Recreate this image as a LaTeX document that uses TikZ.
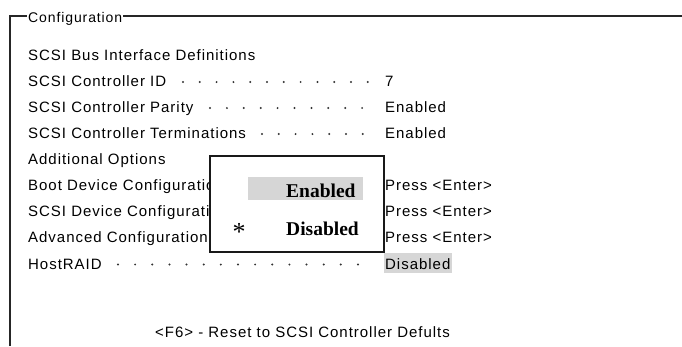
\documentclass[tikz,border=0pt]{standalone}
\usepackage{fontspec}
\newfontfamily\uifont[LetterSpace=6.5]{Liberation Sans}
\newfontfamily\titlefont[LetterSpace=6.4]{Liberation Sans}
\newfontfamily\popfont{Liberation Serif}
\definecolor{hilite}{HTML}{D6D6D6}
\tikzset{
  lbl/.style={inner sep=0pt, anchor=base west, font=\uifont\fontsize{15}{17}\selectfont},
  ttl/.style={inner sep=1pt, anchor=base west, fill=white, font=\titlefont\fontsize{14}{16}\selectfont},
  pop/.style={inner sep=0pt, anchor=base west, font=\popfont\bfseries\fontsize{19.5}{22}\selectfont},
  frameline/.style={line width=1.6pt, black!85},
  dotmark/.style={fill=black!80}
}
\begin{document}
\begin{tikzpicture}[x=1pt,y=-1pt]
\useasboundingbox (0,0) rectangle (682,346);
% outer frame
\coordinate (fb) at (10,346);
\coordinate (fc) at (10,16);
\coordinate (fr) at (682,16);
\draw[frameline] (fb) -- (fc) -- (fr);
\node[ttl] (title) at (27,22) {Configuration};

% left column
\node[lbl] (r1) at (28,60) {SCSI Bus Interface Definitions};
\node[lbl] (r2) at (28,86.5) {SCSI Controller ID};
\node[lbl] (r3) at (28,112.5) {SCSI Controller Parity};
\node[lbl] (r4) at (28,138.5) {SCSI Controller Terminations};
\node[lbl] (r5) at (28,164.5) {Additional Options};
\node[lbl] (r6) at (28,190.5) {Boot Device Configuration};
\node[lbl] (r7) at (28,216.5) {SCSI Device Configuration};
\node[lbl] (r8) at (28,242.5) {Advanced Configuration};
\node[lbl] (r9) at (28,269) {HostRAID};

% dot leaders
\foreach \i in {0,...,11} \fill[dotmark] (183+\i*16.8,82) circle (1.1pt);
\foreach \i in {0,...,9} \fill[dotmark] (210+\i*16.9,108) circle (1.1pt);
\foreach \i in {0,...,6} \fill[dotmark] (262+\i*16.8,134) circle (1.1pt);
\foreach \i in {0,...,14} \fill[dotmark] (118+\i*17.14,264.5) circle (1.1pt);

% values
\node[lbl] (v2) at (385,86.5) {7};
\node[lbl] (v3) at (385,112.5) {Enabled};
\node[lbl] (v4) at (385,138.5) {Enabled};
\node[lbl] (v6) at (385,190.5) {Press <Enter>};
\node[lbl] (v7) at (385,216.5) {Press <Enter>};
\node[lbl] (v8) at (385,242.5) {Press <Enter>};
\fill[hilite] (384,253) rectangle (452,273);
\node[lbl] (v9) at (385,269) {Disabled};

% popup
\node[draw=black!90, line width=1.6pt, fill=white, minimum width=174pt, minimum height=96pt, inner sep=0pt, anchor=north west] (popup) at (209,155) {};
\fill[hilite] (248,177) rectangle (363,200);
\node[pop] (pe) at (286,197) {Enabled};
\node[pop] (pd) at (286,235) {Disabled};
\node[inner sep=0pt, font=\popfont\fontsize{26}{28}\selectfont] (star) at (239,232) {*};

% bottom
\node[lbl] (f6) at (155,337) {<F6> - Reset to SCSI Controller Defults};
\end{tikzpicture}
\end{document}
